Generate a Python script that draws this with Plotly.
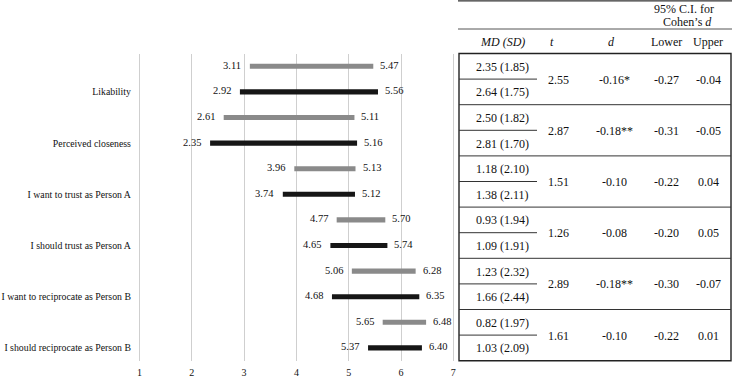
import plotly.graph_objects as go

# ---------------- data ----------------
categories = ["Likability", "Perceived closeness", "I want to trust as Person A",
              "I should trust as Person A", "I want to reciprocate as Person B",
              "I should reciprocate as Person B"]
gray_low = [3.11, 2.61, 3.96, 4.77, 5.06, 5.65]
gray_high = [5.47, 5.11, 5.13, 5.70, 6.28, 6.48]
black_low = [2.92, 2.35, 3.74, 4.65, 4.68, 5.37]
black_high = [5.56, 5.16, 5.12, 5.74, 6.35, 6.40]
x_ticks = [1, 2, 3, 4, 5, 6, 7]

md_a = [2.35, 2.50, 1.18, 0.93, 1.23, 0.82]
sd_a = [1.85, 1.82, 2.10, 1.94, 2.32, 1.97]
md_b = [2.64, 2.81, 1.38, 1.09, 1.66, 1.03]
sd_b = [1.75, 1.70, 2.11, 1.91, 2.44, 2.09]
t_vals = ["2.55", "2.87", "1.51", "1.26", "2.89", "1.61"]
d_vals = ["-0.16*", "-0.18**", "-0.10", "-0.08", "-0.18**", "-0.10"]
ci_lower = ["-0.27", "-0.31", "-0.22", "-0.20", "-0.30", "-0.22"]
ci_upper = ["-0.04", "-0.05", "0.04", "0.05", "-0.07", "0.01"]

# ---------------- layout constants ----------------
W, H = 732, 379
FONT = "Liberation Serif"
TXT = "#111111"
GRAY = "#8a8a8a"
BLACK = "#161616"
top_px, bot_px = 53.5, 360.7
row_h = (bot_px - top_px) / 12.0

def px(x):
    return x / W

def py(y):
    return 1 - y / H

n = len(categories)
rows_gray = [2 * i for i in range(n)]
rows_black = [2 * i + 1 for i in range(n)]

fig = go.Figure()
fig.add_trace(go.Bar(y=rows_gray, x=[h - l for l, h in zip(gray_low, gray_high)], base=gray_low,
                     orientation="h", width=0.2, marker=dict(color=GRAY, line=dict(width=0)),
                     showlegend=False, hoverinfo="skip"))
fig.add_trace(go.Bar(y=rows_black, x=[h - l for l, h in zip(black_low, black_high)], base=black_low,
                     orientation="h", width=0.2, marker=dict(color=BLACK, line=dict(width=0)),
                     showlegend=False, hoverinfo="skip"))

annotations = []
for rows, lows, highs in [(rows_gray, gray_low, gray_high), (rows_black, black_low, black_high)]:
    for r, lo, hi in zip(rows, lows, highs):
        annotations.append(dict(x=lo, y=r, xref="x", yref="y", text=f"{lo:.2f}", showarrow=False,
                                xanchor="right", xshift=-7, yshift=1,
                                font=dict(family=FONT, size=10.5, color=TXT)))
        annotations.append(dict(x=hi, y=r, xref="x", yref="y", text=f"{hi:.2f}", showarrow=False,
                                xanchor="left", xshift=5, yshift=1,
                                font=dict(family=FONT, size=10.5, color=TXT)))

# ---------------- table (paper coordinates) ----------------
def tann(x, y, text, size=12):
    annotations.append(dict(x=px(x), y=py(y), xref="paper", yref="paper", text=text,
                            showarrow=False, xanchor="center", yanchor="middle",
                            font=dict(family=FONT, size=size, color=TXT)))

shapes = []
def tline(x0, y0, x1, y1, w=1.0, c="#333333"):
    shapes.append(dict(type="line", x0=px(x0), y0=py(y0), x1=px(x1), y1=py(y1),
                       xref="paper", yref="paper", line=dict(color=c, width=w)))

tab_l, tab_r = 459, 731
col_md, col_t, col_d, col_lo, col_up = 502.5, 558, 614, 666, 708

tline(458, 0.8, W, 0.8, 1.3)
tline(458, 29, W, 29, 1.0, "#555555")
tann(684, 9, "95% C.I. for")
tann(687, 22, "Cohen’s <i>d</i>")
tann(col_md, 42, "<i>MD (SD)</i>")
tann(552, 42, "<i>t</i>")
tann(611, 42, "<i>d</i>")
tann(col_lo, 42, "Lower")
tann(col_up, 42, "Upper")

shapes.append(dict(type="rect", x0=px(tab_l), y0=py(top_px), x1=px(tab_r), y1=py(bot_px),
                   xref="paper", yref="paper", line=dict(color="#222222", width=1.4)))
for i in range(n):
    g_top = top_px + 2 * i * row_h
    if i > 0:
        tline(tab_l, g_top, tab_r, g_top, 1.0, "#333333")
    tline(tab_l, g_top + row_h, 537, g_top + row_h, 1.0, "#333333")
    tann(col_md, g_top + 0.5 * row_h + 0.5, f"{md_a[i]:.2f} ({sd_a[i]:.2f})")
    tann(col_md, g_top + 1.5 * row_h + 0.5, f"{md_b[i]:.2f} ({sd_b[i]:.2f})")
    cy = g_top + row_h + 0.5
    tann(col_t, cy, t_vals[i])
    tann(col_d, cy, d_vals[i])
    tann(col_lo, cy, ci_lower[i])
    tann(col_up, cy, ci_upper[i])

# x axis: 1 -> 139.5 px, 7 -> 453.3 px, padded range so edge gridlines are drawn
unit = (453.3 - 139.5) / 6
pad = 0.03
x0_px, x1_px = 139.5 - pad * unit, 453.3 + pad * unit
fig.update_layout(
    width=W, height=H, margin=dict(l=0, r=0, t=0, b=0),
    paper_bgcolor="white", plot_bgcolor="white", barmode="overlay",
    xaxis=dict(domain=[x0_px / W, x1_px / W], range=[1 - pad, 7 + pad], tickvals=x_ticks,
               showgrid=True, gridcolor="#cfcfcf", gridwidth=1, zeroline=False, showline=False,
               ticks="", tickfont=dict(family=FONT, size=10, color=TXT),
               automargin=False, ticklabelstandoff=4),
    yaxis=dict(domain=[1 - bot_px / H, 1 - top_px / H], range=[11.5, -0.5],
               tickvals=rows_black, ticktext=categories, showgrid=False, zeroline=False,
               showline=False, ticks="", tickfont=dict(family=FONT, size=9.8, color=TXT),
               automargin=False, ticklabelstandoff=6),
    shapes=shapes, annotations=annotations,
)
fig.write_html("out.html")
